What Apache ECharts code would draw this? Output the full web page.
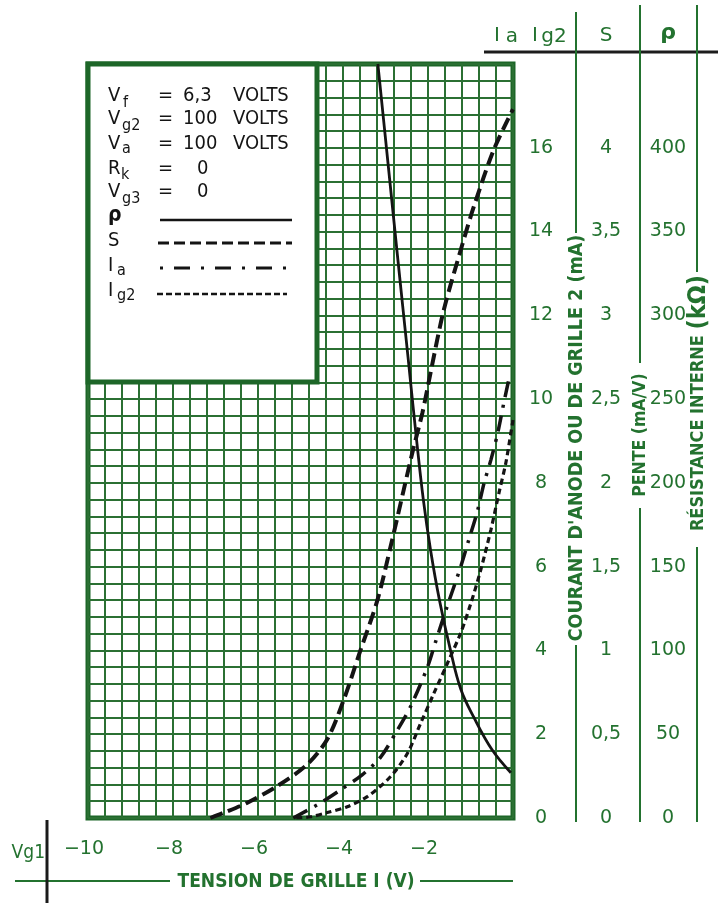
<!DOCTYPE html>
<html><head><meta charset="utf-8">
<script src="https://cdn.jsdelivr.net/npm/echarts@6/dist/echarts.min.js"></script>
<style>html,body{margin:0;padding:0;background:#fff}#c{width:725px;height:903px}</style>
</head><body><div id="c"></div>
<script>
// ---- tick labels ----
const xTickValues = [-10, -8, -6, -4, -2];
const xTickLabels = ['−10', '−8', '−6', '−4', '−2'];
const iaTicks = [0, 2, 4, 6, 8, 10, 12, 14, 16];
const sTicks = ['0', '0,5', '1', '1,5', '2', '2,5', '3', '3,5', '4'];
const rhoTicks = ['0', '50', '100', '150', '200', '250', '300', '350', '400'];

// ---- curves (Vg1 in V) ----
const rhoV = [-3.18, -2.95, -2.72, -2.47, -2.27, -2.11, -1.94, -1.73, -1.47, -1.23, -0.92, -0.50, -0.05];
const rhoK = [450, 393, 336, 275, 226, 190, 160, 130, 100, 77, 60, 41, 27];      // kΩ

const sV = [-7.12, -6.82, -6.26, -5.55, -4.84, -4.37, -3.99, -3.59, -3.19, -2.88, -2.57, -2.34, -2.13, -1.93, -1.63, -1.23, -0.92, -0.45, 0];
const sVal = [0, 0.03, 0.09, 0.19, 0.32, 0.47, 0.70, 1.00, 1.30, 1.62, 1.96, 2.21, 2.42, 2.67, 3.03, 3.39, 3.65, 3.99, 4.23]; // mA/V

const iaV = [-5.17, -4.53, -4.06, -3.55, -3.11, -2.72, -2.41, -2.01, -1.82, -1.54, -1.23, -1.04, -0.83, -0.68, -0.52, -0.36, -0.21, -0.07];
const iaMA = [0, 0.36, 0.67, 1.03, 1.46, 2.10, 2.66, 3.61, 4.21, 5.08, 6.00, 6.64, 7.35, 8.00, 8.55, 9.19, 9.94, 10.6];

const ig2V = [-5.10, -4.76, -4.37, -3.90, -3.43, -2.88, -2.48, -2.17, -1.86, -1.54, -1.23, -0.99, -0.76, -0.52, -0.33, -0.17, -0.05, 0];
const ig2MA = [0, 0.03, 0.13, 0.27, 0.51, 0.99, 1.55, 2.27, 2.98, 3.70, 4.42, 5.13, 5.92, 6.88, 7.76, 8.47, 9.19, 9.5];

// ---- styling ----
const GREEN = '#23722f';
const GRIDC = '#2b7033';
const BORDER = '#1d6628';
const INK = '#141414';
const THIN = '"DejaVu Sans", "Noto Sans", sans-serif';
const COND = '"DejaVu Sans Condensed", "DejaVu Sans", sans-serif';
const L = 88, T = 64, R = 513, B = 818;

const zip = (a, b) => a.map((v, i) => [v, b[i]]);
const near = (v, t) => Math.abs(v - t) < 1e-6;

function txt(x, y, text, font, fill, align, extra) {
  return Object.assign({
    type: 'text', x: x, y: y, z: 20,
    style: { text: text, font: font, fill: fill || INK,
      align: align || 'left', verticalAlign: 'middle',
      textAlign: align || 'left', textVerticalAlign: 'middle' }
  }, extra || {});
}
function ln(x1, y1, x2, y2, color, w, dash) {
  const st = { stroke: color, lineWidth: w };
  if (dash) st.lineDash = dash;
  return { type: 'line', z: 20, shape: { x1, y1, x2, y2 }, style: st };
}

const LF = '20px ' + COND;
const SF = '16px ' + COND;
const graphics = [
  // legend box
  { type: 'rect', z: 15, shape: { x: L, y: T, width: 317 - L, height: 382 - T },
    style: { fill: '#fff', stroke: BORDER, lineWidth: 5 } },
  txt(108, 96, 'V', LF), txt(123, 103, 'f', SF), txt(158, 96, '=', LF), txt(183, 96, '6,3', LF), txt(233, 96, 'VOLTS', LF),
  txt(108, 119, 'V', LF), txt(122, 126, 'g2', SF), txt(158, 119, '=', LF), txt(183, 119, '100', LF), txt(233, 119, 'VOLTS', LF),
  txt(108, 144, 'V', LF), txt(122, 149, 'a', SF), txt(158, 144, '=', LF), txt(183, 144, '100', LF), txt(233, 144, 'VOLTS', LF),
  txt(108, 169, 'R', LF), txt(121, 175, 'k', SF), txt(158, 169, '=', LF), txt(197, 169, '0', LF),
  txt(108, 192, 'V', LF), txt(122, 199, 'g3', SF), txt(158, 192, '=', LF), txt(197, 192, '0', LF),
  txt(108, 216, 'ρ', 'bold 21px ' + COND),
  txt(108, 241, 'S', LF),
  txt(108, 266, 'I', LF), txt(117, 271, 'a', SF),
  txt(108, 291, 'I', LF), txt(117, 296, 'g2', SF),
  ln(160, 220, 292, 220, INK, 2.5),
  ln(158, 243, 292, 243, INK, 3, [11, 5]),
  ln(160, 268, 292, 268, INK, 3, [3, 11, 16, 11]),
  ln(157, 294, 287, 294, INK, 2.5, [6, 3]),

  // header
  ln(484, 52, 718, 52, '#1c1c1c', 3),
  txt(497, 36, 'I', '20px ' + THIN, GREEN, 'center'),
  txt(512, 37, 'a', '20px ' + THIN, GREEN, 'center'),
  txt(535, 36, 'I', '20px ' + THIN, GREEN, 'center'),
  txt(554, 37, 'g2', '20px ' + THIN, GREEN, 'center'),
  txt(606, 36, 'S', '20px ' + THIN, GREEN, 'center'),
  txt(668, 33, 'ρ', 'bold 22px ' + THIN, GREEN, 'center'),

  // column separators
  ln(576, 12, 576, 233, GREEN, 2), ln(576, 645, 576, 822, GREEN, 2),
  ln(640, 5, 640, 363, GREEN, 2), ln(640, 508, 640, 822, GREEN, 2),
  ln(697, 5, 697, 272, GREEN, 2), ln(697, 547, 697, 822, GREEN, 2),

  // rotated titles
  txt(577, 438, "COURANT D'ANODE OU DE GRILLE 2 (mA)", 'bold 19.5px ' + COND, GREEN, 'center', { rotation: Math.PI / 2 }),
  txt(640, 435, 'PENTE (mA/V)', 'bold 17.5px ' + COND, GREEN, 'center', { rotation: Math.PI / 2 }),
  { type: 'text', x: 698, y: 403, z: 20, rotation: Math.PI / 2,
    style: { text: 'RÉSISTANCE INTERNE {b|(kΩ)}', font: 'bold 18px ' + COND, fill: GREEN,
      align: 'center', verticalAlign: 'middle', textAlign: 'center', textVerticalAlign: 'middle',
      rich: { b: { font: 'bold 25px ' + COND, fill: GREEN } } } },

  // bottom
  ln(15, 881, 170, 881, GREEN, 2),
  ln(420, 881, 513, 881, GREEN, 2),
  txt(296, 882, 'TENSION DE GRILLE I (V)', 'bold 19px ' + COND, GREEN, 'center'),
  ln(47, 820, 47, 903, '#1a1a1a', 3),
  txt(45, 853, 'Vg1', '19px ' + COND, GREEN, 'right')
];

const yLab = (margin, fmt) => ({
  show: true, margin: margin, align: 'center', color: GREEN, fontSize: 19,
  fontFamily: THIN, fontWeight: 'normal', padding: [0, 0, 8, 0], formatter: fmt
});

const option = {
  animation: false,
  backgroundColor: '#fff',
  grid: { left: L, top: T, right: 725 - R, bottom: 903 - B, show: true,
    borderColor: BORDER, borderWidth: 5, backgroundColor: '#fff' },
  xAxis: {
    type: 'value', min: -10, max: 0, interval: 0.4,
    axisLine: { show: false }, axisTick: { show: false },
    splitLine: { show: true, lineStyle: { color: GRIDC, width: 2 } },
    axisLabel: {
      margin: 22, color: GREEN, fontSize: 19, fontFamily: THIN, fontWeight: 'normal',
      padding: [0, 8, 0, 0],
      formatter: v => { const i = xTickValues.findIndex(t => near(v, t)); return i >= 0 ? xTickLabels[i] : ''; }
    }
  },
  yAxis: [
    { type: 'value', min: 0, max: 18, interval: 0.4, position: 'right',
      axisLine: { show: false }, axisTick: { show: false },
      splitLine: { show: true, lineStyle: { color: GRIDC, width: 2 } },
      axisLabel: yLab(28, v => { const i = iaTicks.findIndex(t => near(v, t)); return i >= 0 ? String(iaTicks[i]) : ''; }) },
    { type: 'value', min: 0, max: 4.5, interval: 0.1, position: 'right',
      axisLine: { show: false }, axisTick: { show: false }, splitLine: { show: false },
      axisLabel: yLab(93, v => { const i = Math.round(v * 2); return (near(v * 2, i) && i < sTicks.length) ? sTicks[i] : ''; }) },
    { type: 'value', min: 0, max: 450, interval: 10, position: 'right',
      axisLine: { show: false }, axisTick: { show: false }, splitLine: { show: false },
      axisLabel: yLab(155, v => { const i = Math.round(v / 50); return (near(v / 50, i) && i < rhoTicks.length) ? rhoTicks[i] : ''; }) }
  ],
  series: [
    { name: 'ρ', type: 'line', yAxisIndex: 2, data: zip(rhoV, rhoK), showSymbol: false, smooth: 0.4,
      lineStyle: { color: INK, width: 2.8 }, z: 5 },
    { name: 'S', type: 'line', yAxisIndex: 1, data: zip(sV, sVal), showSymbol: false, smooth: 0.3,
      lineStyle: { color: INK, width: 4, type: [13, 6] }, z: 5 },
    { name: 'Ia', type: 'line', yAxisIndex: 0, data: zip(iaV, iaMA), showSymbol: false, smooth: 0.3,
      lineStyle: { color: INK, width: 3.5, type: [16, 8, 3, 8] }, z: 5 },
    { name: 'Ig2', type: 'line', yAxisIndex: 0, data: zip(ig2V, ig2MA), showSymbol: false, smooth: 0.3,
      lineStyle: { color: INK, width: 3.2, type: [6, 4] }, z: 5 }
  ],
  graphic: { elements: graphics }
};

const chart = echarts.init(document.getElementById('c'), null, { renderer: 'canvas' });
chart.setOption(option);
</script>
</body></html>
